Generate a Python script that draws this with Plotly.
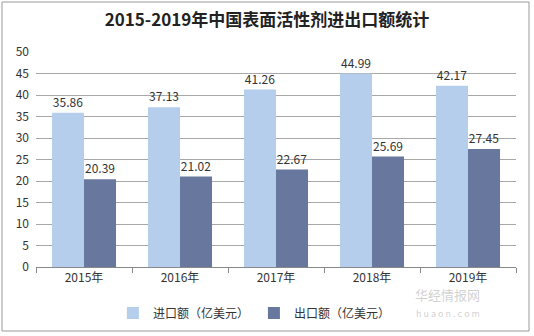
import plotly.graph_objects as go

categories = ["2015年", "2016年", "2017年", "2018年", "2019年"]
imports = [35.86, 37.13, 41.26, 44.99, 42.17]
exports = [20.39, 21.02, 22.67, 25.69, 27.45]
y_ticks = [0, 5, 10, 15, 20, 25, 30, 35, 40, 45, 50]

font_main = "Noto Sans CJK SC, Liberation Sans, sans-serif"

fig = go.Figure()
fig.add_trace(go.Bar(
    x=categories, y=imports, name="进口额（亿美元）",
    marker=dict(color="#B4CEEB", line=dict(width=0)),
    text=[f"{v:.2f}" for v in imports], textposition="outside",
    textfont=dict(size=12, color="#333333", family=font_main),
    cliponaxis=False,
))
fig.add_trace(go.Bar(
    x=categories, y=exports, name="出口额（亿美元）",
    marker=dict(color="#67779E", line=dict(width=0)),
    text=[f"{v:.2f}" for v in exports], textposition="outside",
    textfont=dict(size=12, color="#333333", family=font_main),
    cliponaxis=False,
))

fig.update_layout(
    width=534, height=336,
    margin=dict(l=36, r=18, t=52, b=69, autoexpand=False),
    paper_bgcolor="white", plot_bgcolor="white",
    barmode="group", bargap=0.333, bargroupgap=0,
    font=dict(family=font_main, size=12, color="#333333"),
    title=dict(text="<b>2015-2019年中国表面活性剂进出口额统计</b>",
               x=0.5, xanchor="center", y=0.94, yanchor="middle",
               font=dict(size=17, color="#222222", family="Noto Sans CJK SC, serif")),
    legend=dict(orientation="h", x=0.455, xanchor="center", y=-0.214, yanchor="middle",
                font=dict(size=12, color="#333333"), itemwidth=30,
                traceorder="normal", bgcolor="rgba(0,0,0,0)"),
    showlegend=True,
)
fig.update_xaxes(
    type="category", tickson="boundaries", ticks="outside", ticklen=5,
    tickcolor="#888888", showline=True, linecolor="#888888", linewidth=1,
    showgrid=False, tickfont=dict(size=12, color="#333333"), automargin=False,
)
fig.update_yaxes(
    range=[0, 50], tickvals=y_ticks, showgrid=True, gridcolor="#A8A8A8",
    gridwidth=1, showline=False, zeroline=False, ticks="",
    tickfont=dict(size=12, color="#333333"), ticklabelstandoff=6, automargin=False,
)

# outer frame
fig.add_shape(type="rect", xref="paper", yref="paper",
              x0=-34/480, x1=(480+13)/480, y0=-64/215, y1=(215+50)/215,
              line=dict(color="#999999", width=1), fillcolor="rgba(0,0,0,0)", layer="below")

# watermark
fig.add_annotation(text="华经情报网", xref="paper", yref="paper",
                   x=(482-36)/480, y=(267-306)/215, showarrow=False,
                   font=dict(size=13, color="rgba(170,170,170,0.55)"))
fig.add_annotation(text="h u a o n . c o m", xref="paper", yref="paper",
                   x=(482-36)/480, y=(267-322)/215, showarrow=False,
                   font=dict(size=9, color="rgba(170,170,170,0.55)"))

fig.write_html("out.html")
